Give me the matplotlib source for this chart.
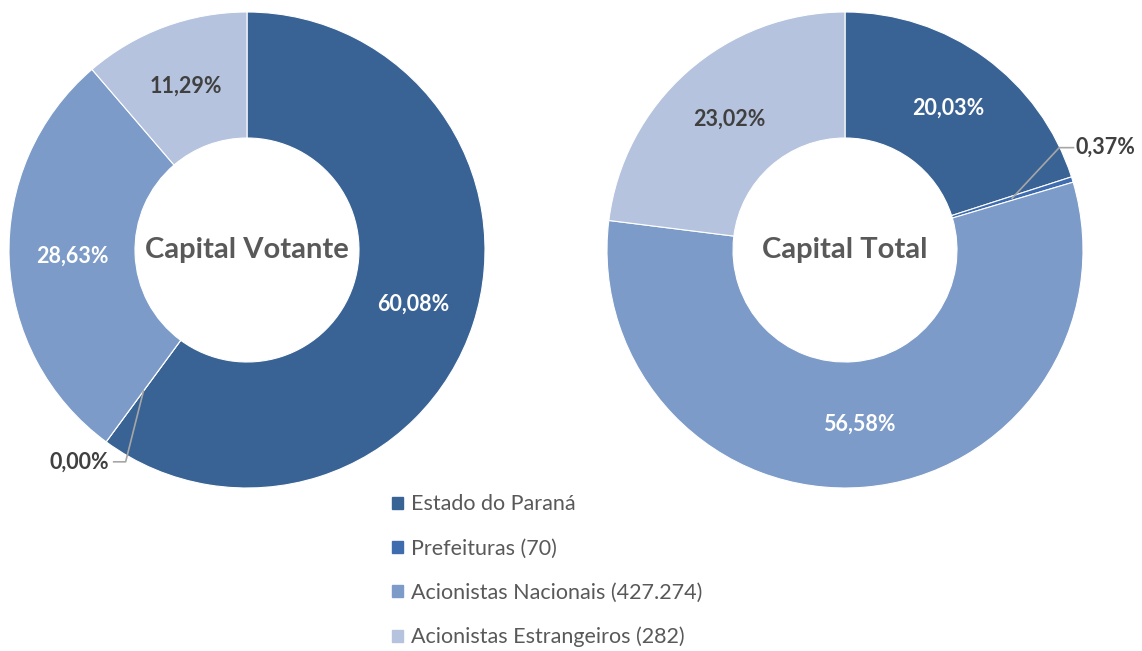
import matplotlib.pyplot as plt
import numpy as np

plt.rcParams['font.family'] = ['Lato', 'DejaVu Sans']

categories = ["Estado do Paraná", "Prefeituras (70)",
              "Acionistas Nacionais (427.274)", "Acionistas Estrangeiros (282)"]
votante = [60.08, 0.00, 28.63, 11.29]
total = [20.03, 0.37, 56.58, 23.02]
colors = ["#3A6395", "#3F6CAF", "#7C9BC8", "#B5C3DE"]
label_colors = ["white", "white", "white", "#404040"]

W, H = 1142, 651
fig = plt.figure(figsize=(W / 100, H / 100), dpi=100)

R_OUT, R_IN = 238, 112
ring_w = (R_OUT - R_IN) / R_OUT
mid_r = (1 + R_IN / R_OUT) / 2


def donut(cx, cy, values, title, outside):
    ax = fig.add_axes([(cx - R_OUT) / W, (H - cy - R_OUT) / H, 2 * R_OUT / W, 2 * R_OUT / H])
    wedges, _ = ax.pie(values, colors=colors, startangle=90, counterclock=False,
                       wedgeprops=dict(width=ring_w, edgecolor="white", linewidth=0.8))
    ax.set_xlim(-1, 1)
    ax.set_ylim(-1, 1)
    ax.text(0, 0, title, ha="center", va="center", fontsize=21,
            fontweight="bold", color="#595959")
    for i, (w, v) in enumerate(zip(wedges, values)):
        a = np.deg2rad((w.theta1 + w.theta2) / 2)
        x, y = mid_r * np.cos(a), mid_r * np.sin(a)
        txt = f"{v:.2f}%".replace(".", ",")
        if i in outside:
            ex, ey, tx = outside[i]
            ax.plot([x, ex, tx], [y, ey, ey], color="#A6A6A6", lw=1.2, clip_on=False)
            ha = "left" if tx > ex else "right"
            ax.text(tx + (0.01 if ha == "left" else -0.02), ey, txt, ha=ha, va="center",
                    fontsize=15.5, fontweight="bold", color="#404040")
        else:
            ax.text(x, y, txt, ha="center", va="center", fontsize=15.5,
                    fontweight="bold", color=label_colors[i])
    return ax


# elbow points in axis units (x_elbow, y_elbow, x_text)
donut(247, 250, votante, "Capital Votante", {1: (-0.51, -0.89, -0.56)})
donut(845, 250, total, "Capital Total", {1: (0.90, 0.43, 0.96)})

handles = [plt.Rectangle((0, 0), 1, 1, color=c) for c in colors]
fig.legend(handles, categories, loc="upper left", bbox_to_anchor=(373 / W, 1 - 475 / H),
           frameon=False, fontsize=15.5, handlelength=0.5, handleheight=0.5,
           handletextpad=0.35, labelspacing=1.12, labelcolor="#595959")

fig.savefig("out.png", dpi=100)
